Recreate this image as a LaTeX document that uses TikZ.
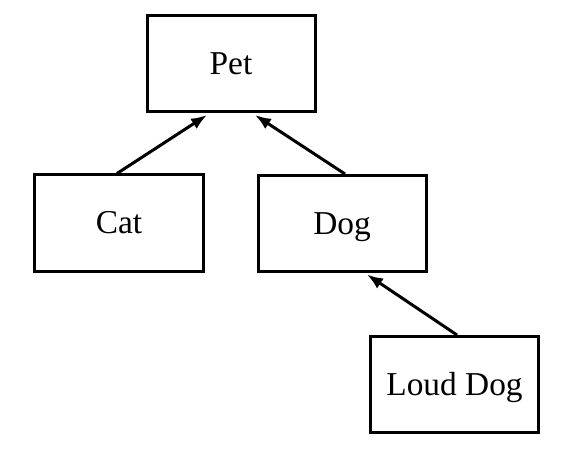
\documentclass[tikz,border=0pt]{standalone}
\usepackage{fontspec}
\setmainfont{Liberation Serif}
\usetikzlibrary{arrows.meta}
\tikzset{
  cls/.style={draw, line width=3bp, minimum width=168bp, minimum height=96bp, inner sep=0pt, text height=22bp, text depth=0pt, font=\fontsize{33.5}{36}\selectfont},
  arr/.style={line width=3bp, -{Latex[length=16bp,width=12bp]}}
}
\begin{document}
\begin{tikzpicture}[x=1bp,y=-1bp]
\useasboundingbox (0,0) rectangle (570,454);
\node[cls] (pet) at (231,64) {Pet};
\node[cls] (cat) at (119,223) {Cat};
\node[cls] (dog) at (342,223.5) {Dog};
\node[cls] (loud) at (454.5,384.5) {Loud Dog};
\draw[arr] ([xshift=-2bp]cat.north) -- ([xshift=-24bp,yshift=-1.5bp]pet.south);
\draw[arr] ([xshift=3bp]dog.north) -- ([xshift=24bp,yshift=-1.5bp]pet.south);
\draw[arr] ([xshift=2.5bp]loud.north) -- ([xshift=25bp,yshift=-1.5bp]dog.south);
\end{tikzpicture}
\end{document}
